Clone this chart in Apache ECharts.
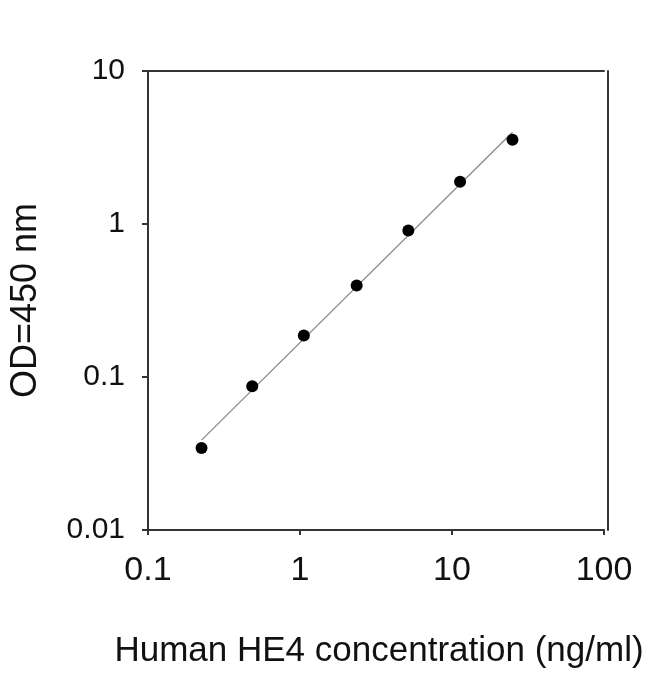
<!DOCTYPE html>
<html lang="en">
<head>
    <meta charset="utf-8">
    <title>HE4 standard curve</title>
    <script src="https://cdn.jsdelivr.net/npm/echarts@6/dist/echarts.min.js"></script>
</head>
<body style="margin:0;background:#fff;">
    <div id="main" style="width:650px;height:674px;"></div>
    <script type="text/javascript">
    var concentration = [0.225, 0.485, 1.06, 2.36, 5.16, 11.3, 25.0];
    var od450 = [0.0343, 0.087, 0.187, 0.396, 0.906, 1.89, 3.55];
    var xTickLabels = ['0.1', '1', '10', '100'];
    var yTickLabels = ['0.01', '0.1', '1', '10'];

    // least-squares fit in log-log space, drawn across the data range
    var lx = concentration.map(Math.log10), ly = od450.map(Math.log10);
    var n = lx.length, mx = 0, my = 0;
    for (var i = 0; i < n; i++) { mx += lx[i] / n; my += ly[i] / n; }
    var sxy = 0, sxx = 0;
    for (var i = 0; i < n; i++) { sxy += (lx[i] - mx) * (ly[i] - my); sxx += (lx[i] - mx) * (lx[i] - mx); }
    var slope = sxy / sxx, icpt = my - slope * mx;
    var fitLine = [lx[0], lx[n - 1]].map(function (v) {
        return [Math.pow(10, v), Math.pow(10, icpt + slope * v)];
    });

    function pick(labels, min) {
        return function (v) {
            var k = Math.round(Math.log10(v) - Math.log10(min));
            return labels[k] !== undefined ? labels[k] : '';
        };
    }

    var font = '"Liberation Sans", Arial, sans-serif';
    var axisLine = { show: true, lineStyle: { color: '#333', width: 2 } };

    var myChart = echarts.init(document.getElementById('main'));
    var option = {
        animation: false,
        grid: { left: 145, right: 46, top: 71, bottom: 143 },
        xAxis: [{
            type: 'log', logBase: 10, min: 0.1, max: 100,
            name: 'Human HE4 concentration (ng/ml)',
            nameLocation: 'middle', nameGap: 104,
            nameTextStyle: { fontFamily: font, fontSize: 35, color: '#111', padding: [0, 0, 0, 6] },
            axisLine: axisLine,
            axisTick: { show: true, inside: false, length: 5, lineStyle: { color: '#333', width: 2 } },
            minorTick: { show: false },
            splitLine: { show: false },
            axisLabel: { fontFamily: font, fontSize: 34, color: '#111', margin: 24, formatter: pick(xTickLabels, 0.1) }
        }, {
            type: 'log', logBase: 10, min: 0.1, max: 100, position: 'top',
            axisLine: axisLine, axisTick: { show: false }, axisLabel: { show: false }, splitLine: { show: false }
        }],
        yAxis: [{
            type: 'log', logBase: 10, min: 0.01, max: 10,
            name: 'OD=450 nm',
            nameLocation: 'middle', nameGap: 104, nameRotate: 90,
            nameTextStyle: { fontFamily: font, fontSize: 36, color: '#111' },
            axisLine: axisLine,
            axisTick: { show: true, inside: false, length: 6, lineStyle: { color: '#333', width: 2 } },
            splitLine: { show: false },
            axisLabel: { fontFamily: font, fontSize: 30, color: '#111', margin: 23, formatter: pick(yTickLabels, 0.01) }
        }, {
            type: 'log', logBase: 10, min: 0.01, max: 10, position: 'right', offset: 4,
            axisLine: axisLine, axisTick: { show: false }, axisLabel: { show: false }, splitLine: { show: false }
        }],
        series: [{
            type: 'line',
            data: fitLine,
            symbol: 'none',
            lineStyle: { color: '#8a8a8a', width: 1.3 },
            z: 2
        }, {
            type: 'scatter',
            data: concentration.map(function (c, i) { return [c, od450[i]]; }),
            symbol: 'circle',
            symbolSize: 12,
            itemStyle: { color: '#000', opacity: 1 },
            z: 3
        }]
    };
    myChart.setOption(option);
    </script>
</body>
</html>
